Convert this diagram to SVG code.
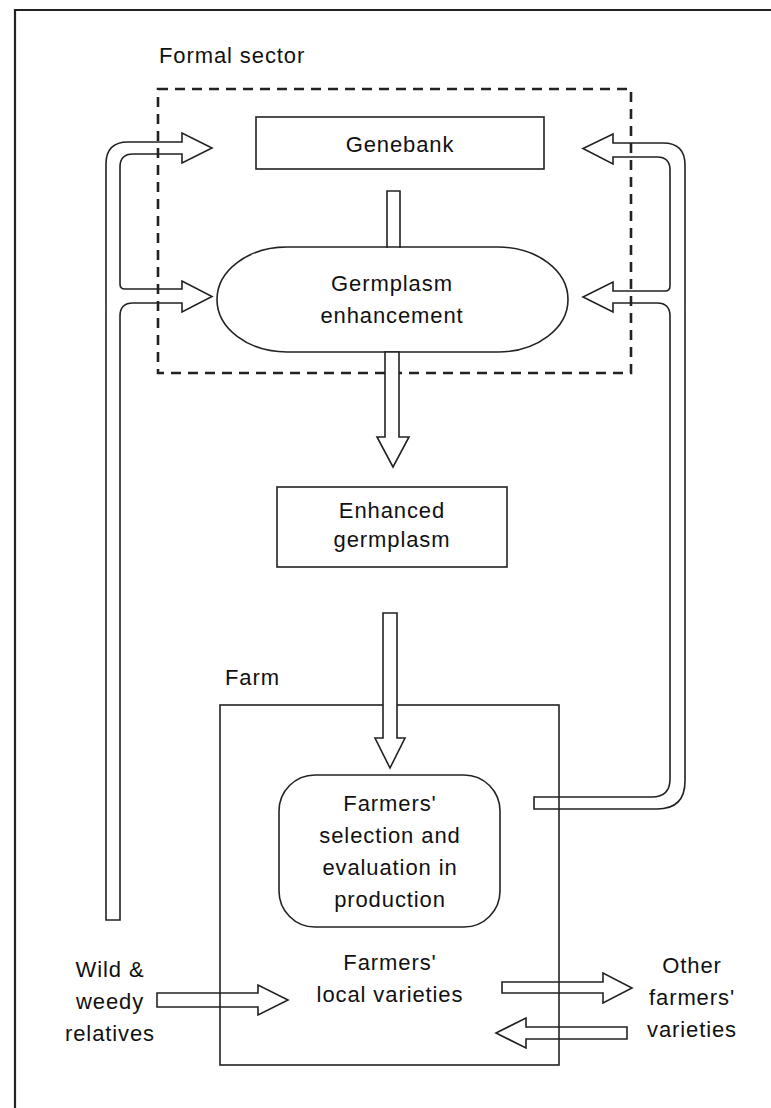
<svg xmlns="http://www.w3.org/2000/svg" width="771" height="1108" viewBox="0 0 771 1108">
<style>
text{font-family:"Liberation Sans",Arial,Helvetica,sans-serif;font-size:22px;letter-spacing:0.9px;fill:#111}
.c{text-anchor:middle}
.n{fill:#fff;stroke:#222;stroke-width:1.6}
.a{fill:none;stroke:#222;stroke-width:1.6;stroke-linejoin:miter}
.aw{fill:#fff;stroke:#222;stroke-width:1.6}
</style>
<rect width="771" height="1108" fill="#fff"/>
<g id="frame">
<path d="M15,1108 V10 H771" fill="none" stroke="#222" stroke-width="2.2"/>
</g>
<g id="formal-sector">
<text x="159" y="63">Formal sector</text>
</g>
<g id="farm">
<rect x="220" y="705" width="339" height="360" fill="none" stroke="#222" stroke-width="1.6"/>
<text x="225" y="685">Farm</text>
</g>
<g id="genebank">
<rect class="n" x="256" y="117" width="288" height="52"/>
<text class="c" x="400" y="152">Genebank</text>
</g>
<g id="germplasm-enhancement">
<rect class="n" x="217" y="247" width="351" height="105" rx="70" ry="52.5"/>
<text class="c" x="392" y="291">Germplasm</text>
<text class="c" x="392" y="323">enhancement</text>
</g>
<g id="enhanced-germplasm">
<rect class="n" x="277" y="487" width="230" height="80"/>
<text class="c" x="392" y="518">Enhanced</text>
<text class="c" x="392" y="547">germplasm</text>
</g>
<g id="farmers-selection">
<rect class="n" x="279" y="775" width="221" height="152" rx="36"/>
<text class="c" x="390" y="811">Farmers'</text>
<text class="c" x="390" y="843">selection and</text>
<text class="c" x="390" y="875">evaluation in</text>
<text class="c" x="390" y="907">production</text>
</g>
<g id="farmers-local-varieties">
<text class="c" x="390" y="970">Farmers'</text>
<text class="c" x="390" y="1002">local varieties</text>
</g>
<g id="wild-weedy-relatives">
<text class="c" x="110" y="977">Wild &amp;</text>
<text class="c" x="110" y="1009">weedy</text>
<text class="c" x="110" y="1041">relatives</text>
</g>
<g id="other-farmers-varieties">
<text class="c" x="692" y="973">Other</text>
<text class="c" x="692" y="1005">farmers'</text>
<text class="c" x="692" y="1037">varieties</text>
</g>
<g id="connectors">
<path class="a" d="M106,920 V164 Q106,142 128,142 H182 V133 L212,148 L182,163 V154 H133 Q120,154 120,167 V284 Q120,289 125,289 H182 V281 L212,296.5 L182,312 V303 H133 Q120,303 120,316 V920 Z"/>
<path class="a" d="M534,797 H652 Q670,797 670,779 V316 Q670,303 657,303 H613 V312 L583,297 L613,282 V291 H665 Q670,291 670,286 V170 Q670,157 657,157 H613 V164 L583,148.5 L613,134 V143 H663 Q685,143 685,165 V781 Q685,809 657,809 H534 Z"/>
<path class="a" d="M387,248 V191 H400 V248"/>
<path class="a" d="M157,993 H258 V985 L288,1000 L258,1015 V1007 H157 Z"/>
<path class="a" d="M502,982 H603 V973 L632,988 L603,1003 V993 H502 Z"/>
<path class="a" d="M627,1027 H526 V1018 L496,1033 L526,1048 V1039 H627 Z"/>
</g>
<g id="formal-sector-boundary">
<rect x="158" y="89" width="473" height="284" fill="none" stroke="#222" stroke-width="2.6" stroke-dasharray="10 7"/>
</g>
<g id="connectors-over">
<path class="aw" d="M385,352 V437 H377 L393,467 L409,437 H399 V352 Z"/>
<path class="aw" d="M383,613 V738 H375 L390,768 L405,738 H397 V613 Z"/>
</g>
</svg>
